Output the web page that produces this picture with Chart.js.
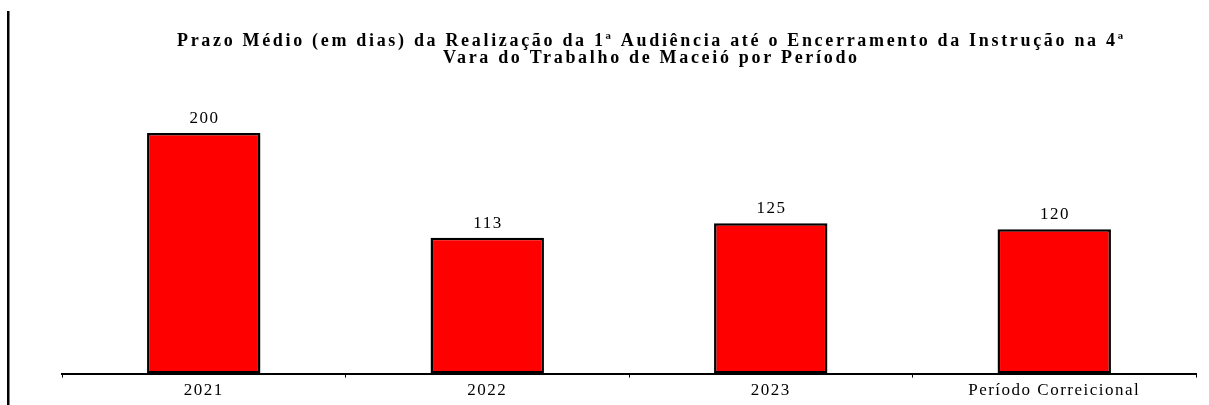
<!DOCTYPE html>
<html>
<head>
<meta charset="utf-8">
<script src="https://cdn.jsdelivr.net/npm/chart.js@4/dist/chart.umd.min.js"></script>
<style>
  html, body { margin: 0; padding: 0; background: #fff; }
  #wrap { width: 1209px; height: 405px; position: relative; }
</style>
</head>
<body>
<div id="wrap"><canvas id="c"></canvas></div>
<script>
const categories = ["2021", "2022", "2023", "Período Correicional"];
const values = [200, 113, 125, 120];
const titleLines = [
  "Prazo Médio (em dias) da Realização da 1ª Audiência até o Encerramento da Instrução na 4ª",
  "Vara do Trabalho de Maceió por Período"
];
const yMax = 250;

const FONT = '"Liberation Serif", "Times New Roman", serif';
const SPACING = '1.5px';

const decoPlugin = {
  id: 'deco',
  beforeDraw(chart) {
    const ctx = chart.ctx;
    ctx.save();
    ctx.fillStyle = '#fff';
    ctx.fillRect(0, 0, chart.width, chart.height);
    ctx.restore();
    ctx.letterSpacing = SPACING;
  },
  afterDraw(chart) {
    const ctx = chart.ctx;
    // left frame line
    ctx.save();
    ctx.fillStyle = '#000';
    ctx.fillRect(7, 11, 2.5, chart.height - 11);
    ctx.restore();

    // title
    ctx.save();
    ctx.fillStyle = '#000';
    ctx.font = 'bold 18px ' + FONT;
    ctx.textAlign = 'center';
    ctx.textBaseline = 'alphabetic';
    ctx.letterSpacing = '0px';
    const w0 = ctx.measureText(titleLines[0]).width;
    const sp = Math.max(0, (949 - w0) / titleLines[0].length);
    ctx.letterSpacing = sp.toFixed(2) + 'px';
    const cx = 650 + sp / 2;
    ctx.fillText(titleLines[0], cx, 46);
    ctx.fillText(titleLines[1], cx, 63);
    ctx.restore();

    // value labels
    ctx.save();
    ctx.fillStyle = '#000';
    ctx.font = '17px ' + FONT;
    ctx.textAlign = 'center';
    ctx.textBaseline = 'alphabetic';
    ctx.letterSpacing = SPACING;
    const meta = chart.getDatasetMeta(0);
    meta.data.forEach((bar, i) => {
      ctx.fillText(String(values[i]), bar.x + 0.75, bar.y - 10);
    });
    ctx.restore();
  }
};

new Chart(document.getElementById('c'), {
  type: 'bar',
  data: {
    labels: categories,
    datasets: [{
      data: values,
      backgroundColor: '#ff0000',
      borderColor: '#000000',
      borderWidth: 2.5,
      borderSkipped: false,
      barPercentage: 0.4,
      categoryPercentage: 1.0
    }]
  },
  options: {
    responsive: true,
    maintainAspectRatio: false,
    animation: false,
    layout: { padding: { left: 62, right: 13, top: 73, bottom: 1 } },
    plugins: {
      legend: { display: false },
      title: { display: false },
      tooltip: { enabled: false }
    },
    scales: {
      x: {
        offset: true,
        grid: {
          display: true,
          drawOnChartArea: false,
          drawTicks: true,
          tickLength: 4,
          color: '#000',
          lineWidth: 1,
          offset: true
        },
        border: { display: true, color: '#000', width: 2 },
        ticks: {
          color: '#000',
          font: { family: FONT, size: 17 },
          padding: 3,
          autoSkip: false,
          maxRotation: 0
        }
      },
      y: {
        display: false,
        min: 0,
        max: yMax
      }
    }
  },
  plugins: [decoPlugin]
});
</script>
</body>
</html>
